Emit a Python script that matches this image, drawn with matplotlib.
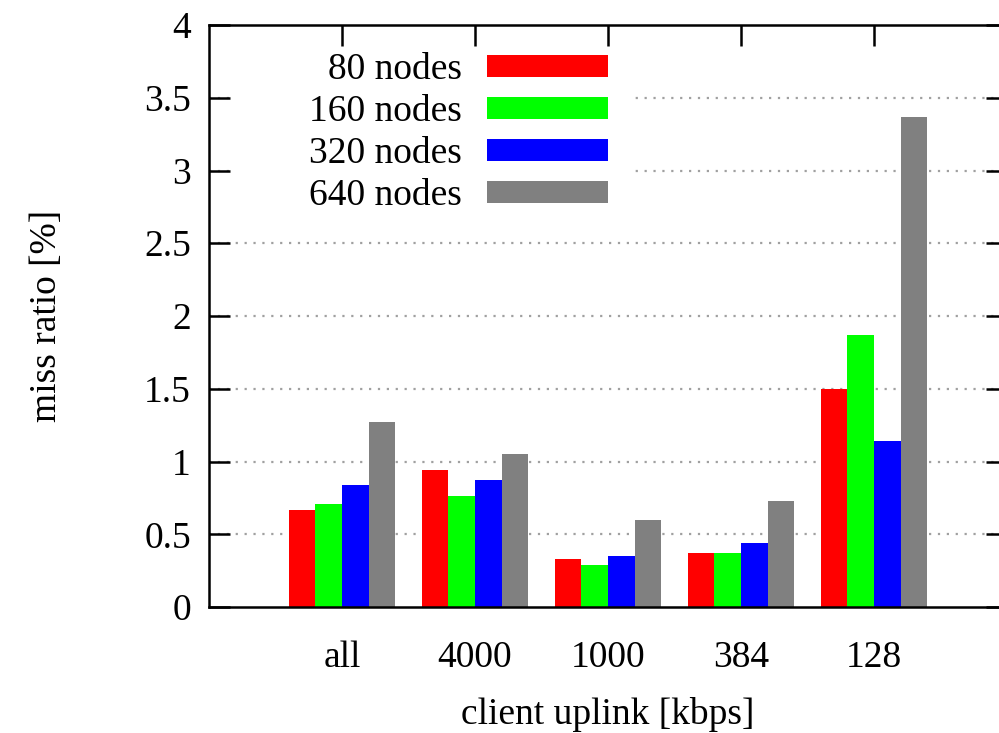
import matplotlib
matplotlib.use("Agg")
import matplotlib.pyplot as plt
from matplotlib.patches import Rectangle
import numpy as np

categories = ["all", "4000", "1000", "384", "128"]
series_labels = ["80 nodes", "160 nodes", "320 nodes", "640 nodes"]
series_colors = ["#ff0000", "#00ff00", "#0000ff", "#808080"]
v80 = [0.67, 0.94, 0.33, 0.37, 1.50]
v160 = [0.71, 0.76, 0.29, 0.37, 1.87]
v320 = [0.84, 0.87, 0.35, 0.44, 1.14]
v640 = [1.27, 1.05, 0.60, 0.73, 3.37]
series_values = [v80, v160, v320, v640]
y_ticks = [0, 0.5, 1, 1.5, 2, 2.5, 3, 3.5, 4]
y_tick_labels = ["0", "0.5", "1", "1.5", "2", "2.5", "3", "3.5", "4"]

plt.rcParams['font.family'] = ['Liberation Serif', 'DejaVu Serif']
W, H = 999, 733
fig = plt.figure(figsize=(W / 100, H / 100), dpi=100)
rect = [209 / W, 1 - 607 / H, (1007 - 209) / W, (607 - 25) / H]
ax = fig.add_axes(rect)

x = np.arange(len(categories))
bw = 0.2
for i, (vals, col) in enumerate(zip(series_values, series_colors)):
    ax.bar(x + (i - 1.5) * bw, vals, width=bw, color=col, edgecolor='none', zorder=3)

ax.set_xlim(-1, 5)
ax.set_ylim(0, 4)
ax.set_yticks(y_ticks)
ax.set_yticklabels(y_tick_labels)
ax.set_xticks(x)
ax.set_xticklabels(categories)

# grid lines (drawn manually so the opaque key box can cover them)
for yt in y_ticks[1:-1]:
    ax.axhline(yt, color='#a0a0a0', linestyle=(0, (1, 3)), linewidth=1.6, zorder=0.3)

for s in ax.spines.values():
    s.set_linewidth(1.8)
    s.set_zorder(5)

ax.tick_params(axis='y', which='both', direction='in', length=15, width=1.8,
               left=True, right=True, labelsize=27, pad=13)
ax.tick_params(axis='x', which='both', direction='in', length=15, width=1.8,
               bottom=False, top=False, labelsize=27, pad=24)

ax.set_xlabel("client uplink [kbps]", fontsize=27, labelpad=16)
ax.set_ylabel("miss ratio [%]", fontsize=27, labelpad=58)

# legend (opaque key area)
def px2ax(px, py):
    return (px - 209) / (1007 - 209), (607 - py) / (607 - 25)

bx0, by0 = px2ax(232, 212)
bx1, by1 = px2ax(632, 27)
ax.add_patch(Rectangle((bx0, by0), bx1 - bx0, by1 - by0, transform=ax.transAxes,
                       facecolor='white', edgecolor='none', zorder=0.4))
row_y = [66, 108, 150, 192]
for lab, col, ry in zip(series_labels, series_colors, row_y):
    tx, ty = px2ax(462, ry)
    ax.text(tx, ty, lab, transform=ax.transAxes, ha='right', va='center_baseline',
            fontsize=27, zorder=6)
    sx0, sy0 = px2ax(487, ry + 11)
    sx1, sy1 = px2ax(608, ry - 11)
    ax.add_patch(Rectangle((sx0, sy0), sx1 - sx0, sy1 - sy0, transform=ax.transAxes,
                           facecolor=col, edgecolor='none', zorder=6))

# overlay axes carrying the mirrored top ticks
ax_top = fig.add_axes(rect, sharex=ax)
ax_top.patch.set_visible(False)
for s in ax_top.spines.values():
    s.set_visible(False)
ax_top.set_yticks([])
ax_top.tick_params(axis='x', which='both', direction='in', length=15, width=1.8,
                   bottom=False, top=True, labelbottom=False, labeltop=False)

fig.savefig("out.png", dpi=100)
